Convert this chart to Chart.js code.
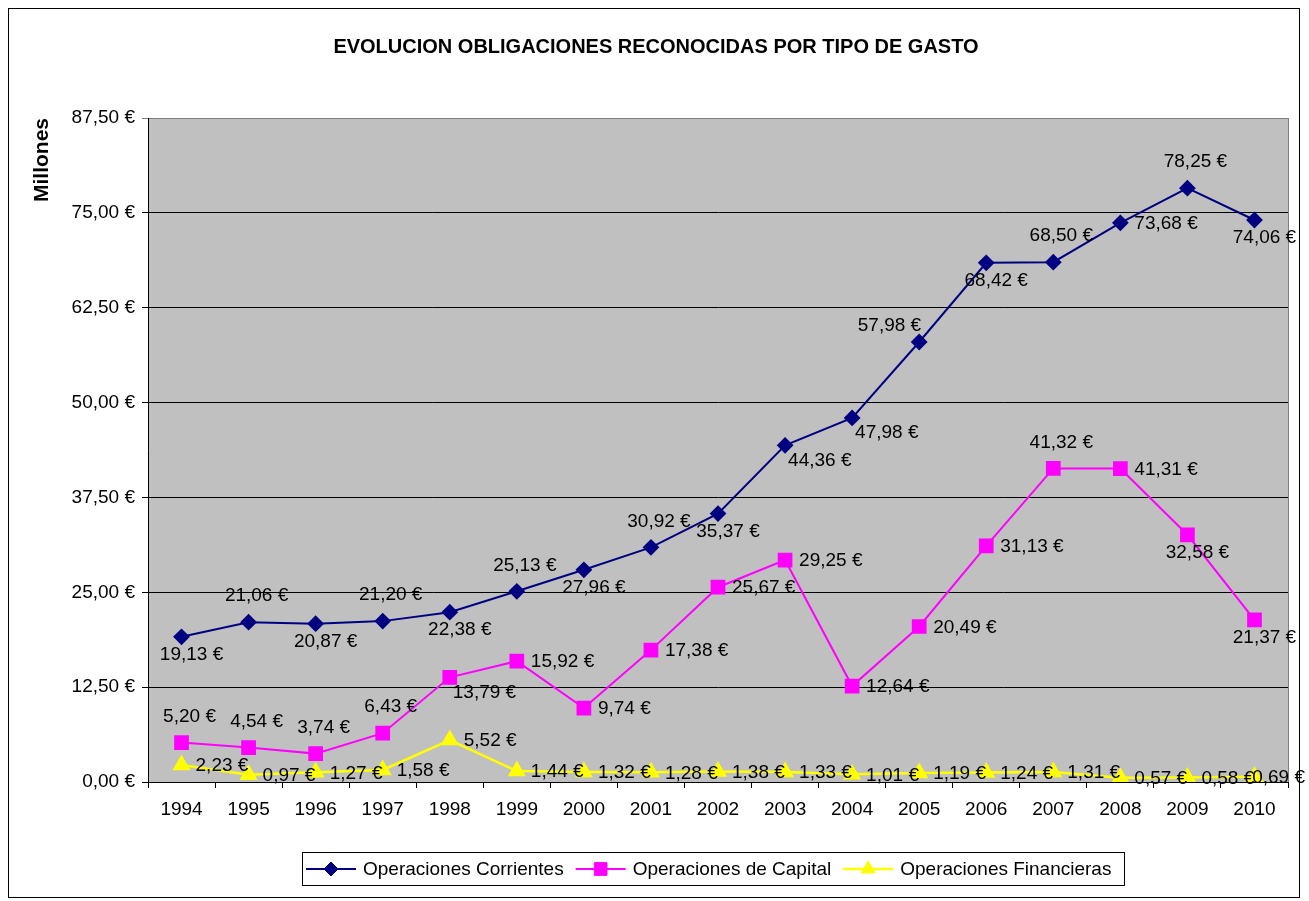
<!DOCTYPE html>
<html lang="es">
<head>
<meta charset="UTF-8">
<title>Evolucion obligaciones reconocidas</title>
<script src="https://cdn.jsdelivr.net/npm/chart.js"></script>
<style>
  html, body { margin: 0; padding: 0; background: #fff; }
</style>
</head>
<body>
<canvas id="grafico" width="1309" height="901"></canvas>
<script>
// datos (millones de euros)
const anos = ['1994', '1995', '1996', '1997', '1998', '1999', '2000', '2001', '2002',
              '2003', '2004', '2005', '2006', '2007', '2008', '2009', '2010'];
const corrientes = [19.13, 21.06, 20.87, 21.20, 22.38, 25.13, 27.96, 30.92, 35.37,
                    44.36, 47.98, 57.98, 68.42, 68.50, 73.68, 78.25, 74.06];
const capital = [5.20, 4.54, 3.74, 6.43, 13.79, 15.92, 9.74, 17.38, 25.67,
                 29.25, 12.64, 20.49, 31.13, 41.32, 41.31, 32.58, 21.37];
const financieras = [2.23, 0.97, 1.27, 1.58, 5.52, 1.44, 1.32, 1.28, 1.38,
                     1.33, 1.01, 1.19, 1.24, 1.31, 0.57, 0.58, 0.69];
const ticksY = [0, 12.5, 25, 37.5, 50, 62.5, 75, 87.5];

// donde va cada etiqueta: a=arriba, b=abajo, r=derecha, br=abajo-derecha, al=arriba-izquierda
const posCorrientes = ['b', 'a', 'b', 'a', 'b', 'a', 'b', 'a', 'b', 'br', 'br', 'al', 'b', 'a', 'r', 'a', 'b'];
const posCapital = ['a', 'a', 'a', 'a', 'br', 'r', 'r', 'r', 'r', 'r', 'r', 'r', 'r', 'a', 'r', 'b', 'b'];
const posFinancieras = anos.map(() => 'r');

const FAMILIA = '"Liberation Sans", Arial, sans-serif';

function euros(v) {
    return v.toFixed(2).replace('.', ',') + ' €';
}

const desp = {
    a: { dx: 8, dy: -26, align: 'center' },
    b: { dx: 10, dy: 18, align: 'center' },
    r: { dx: 14, dy: 1, align: 'left' },
    br: { dx: 3, dy: 15, align: 'left' },
    al: { dx: 2, dy: -16, align: 'right' }
};

const fondo = {
    id: 'fondo',
    beforeDraw(chart) {
        const ctx = chart.ctx;
        const a = chart.chartArea;
        ctx.save();
        ctx.fillStyle = '#fff';
        ctx.fillRect(0, 0, chart.width, chart.height);
        ctx.strokeStyle = '#000';
        ctx.lineWidth = 1;
        ctx.strokeRect(8.5, 8.5, 1291, 889);
        ctx.fillStyle = '#c0c0c0';
        ctx.fillRect(a.left, a.top, a.right - a.left, a.bottom - a.top);
        ctx.strokeStyle = '#808080';
        ctx.strokeRect(a.left + 0.5, a.top + 0.5, a.right - a.left, a.bottom - a.top);
        // titulo
        ctx.fillStyle = '#000';
        ctx.font = 'bold 20px ' + FAMILIA;
        ctx.textAlign = 'center';
        ctx.textBaseline = 'middle';
        ctx.fillText('EVOLUCION OBLIGACIONES RECONOCIDAS POR TIPO DE GASTO', 656, 47);
        ctx.restore();
    }
};

const etiquetas = {
    id: 'etiquetas',
    afterDatasetsDraw(chart) {
        const ctx = chart.ctx;
        ctx.save();
        ctx.font = '19px ' + FAMILIA;
        ctx.fillStyle = '#000';
        ctx.textBaseline = 'middle';
        chart.data.datasets.forEach((ds, i) => {
            const meta = chart.getDatasetMeta(i);
            meta.data.forEach((p, j) => {
                const d = desp[ds.posEtiquetas[j]];
                const txt = euros(ds.data[j]);
                let x = p.x + d.dx;
                ctx.textAlign = d.align;
                if (d.align === 'left') {
                    const w = ctx.measureText(txt).width;
                    if (x + w > 1305) x = 1305 - w;
                }
                ctx.fillText(txt, x, p.y + d.dy);
            });
        });
        ctx.restore();
    }
};

const leyenda = {
    id: 'leyenda',
    afterDraw(chart) {
        const ctx = chart.ctx;
        const cy = 869;
        ctx.save();
        ctx.fillStyle = '#fff';
        ctx.fillRect(302, 852, 822, 33);
        ctx.strokeStyle = '#000';
        ctx.lineWidth = 1;
        ctx.strokeRect(302.5, 852.5, 822, 33);
        ctx.font = '19px ' + FAMILIA;
        ctx.textAlign = 'left';
        ctx.textBaseline = 'middle';
        let x = 306;
        chart.data.datasets.forEach(ds => {
            ctx.strokeStyle = ds.borderColor;
            ctx.lineWidth = ds.borderWidth;
            ctx.beginPath();
            ctx.moveTo(x, cy);
            ctx.lineTo(x + 50, cy);
            ctx.stroke();
            ctx.fillStyle = ds.pointBackgroundColor;
            ctx.strokeStyle = ds.pointBorderColor;
            ctx.lineWidth = 1;
            Chart.helpers.drawPoint(ctx, { pointStyle: ds.pointStyle, radius: ds.pointRadius, rotation: 0, borderWidth: 1 }, x + 25, cy);
            ctx.fillStyle = '#000';
            ctx.fillText(ds.label, x + 57, cy + 1);
            x += 57 + ctx.measureText(ds.label).width + 12;
        });
        ctx.restore();
    }
};

function serie(nombre, datos, color, estilo, radio, grosor, pos) {
    return {
        label: nombre,
        data: datos,
        borderColor: color,
        backgroundColor: color,
        pointBackgroundColor: color,
        pointBorderColor: color,
        borderWidth: grosor,
        pointStyle: estilo,
        pointRadius: radio,
        pointHoverRadius: radio,
        tension: 0,
        posEtiquetas: pos
    };
}

new Chart(document.getElementById('grafico'), {
    type: 'line',
    data: {
        labels: anos,
        datasets: [
            serie('Operaciones Corrientes', corrientes, '#000080', 'rectRot', 7, 2, posCorrientes),
            serie('Operaciones de Capital', capital, '#ff00ff', 'rect', 9, 2, posCapital),
            serie('Operaciones Financieras', financieras, '#ffff00', 'triangle', 8, 2.5, posFinancieras)
        ]
    },
    options: {
        responsive: false,
        animation: false,
        layout: { padding: { top: 118, left: 0, right: 21, bottom: 0 } },
        plugins: {
            legend: { display: false },
            title: { display: false },
            tooltip: { enabled: false }
        },
        scales: {
            x: {
                offset: true,
                afterFit(s) { s.height = 119; },
                grid: { display: true, drawOnChartArea: false, drawTicks: true, tickLength: 6, color: '#000', offset: true },
                border: { display: true, color: '#000', width: 1 },
                ticks: { color: '#000', font: { family: FAMILIA, size: 19 }, padding: 10, maxRotation: 0 }
            },
            y: {
                min: 0,
                max: 87.5,
                afterFit(s) { s.width = 148; },
                afterBuildTicks(s) { s.ticks = ticksY.map(v => ({ value: v })); },
                grid: {
                    color: ctx => (ctx.tick && ctx.tick.value === 87.5) ? '#808080' : '#000',
                    lineWidth: 1,
                    tickLength: 6
                },
                border: { display: true, color: '#000', width: 1 },
                ticks: {
                    color: '#000',
                    font: { family: FAMILIA, size: 19 },
                    padding: 7,
                    callback: v => euros(v)
                },
                title: {
                    display: true,
                    text: 'Millones',
                    align: 'end',
                    color: '#000',
                    font: { family: FAMILIA, size: 21, weight: 'bold' },
                    padding: { top: 30, bottom: 0 }
                }
            }
        }
    },
    plugins: [fondo, etiquetas, leyenda]
});
</script>
</body>
</html>
